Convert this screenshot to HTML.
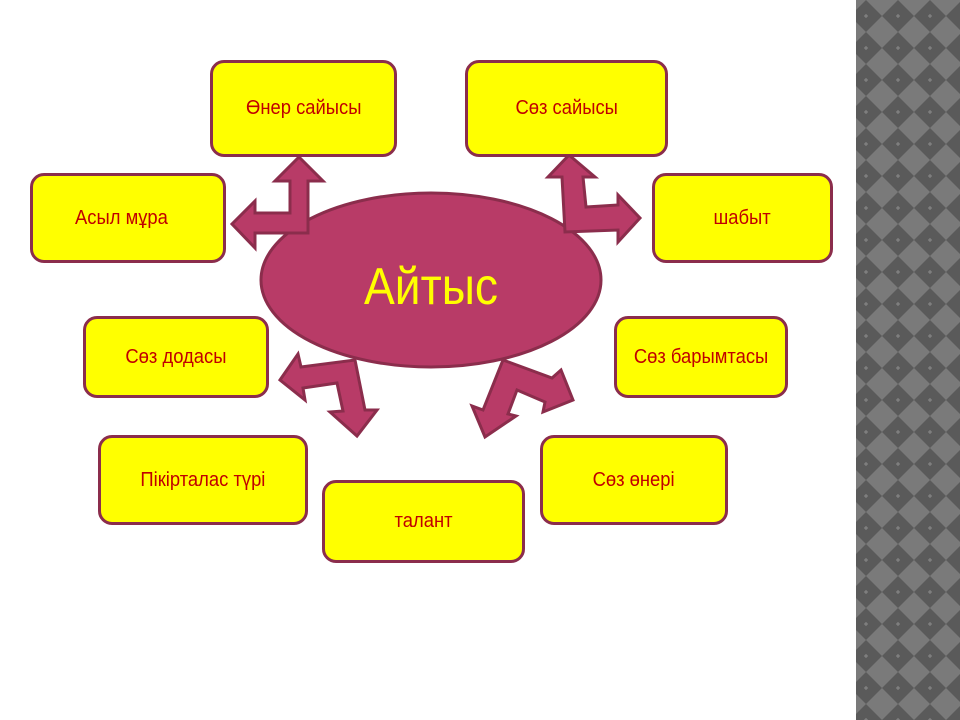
<!DOCTYPE html>
<html><head><meta charset="utf-8"><style>
body{margin:0;width:960px;height:720px;background:#fff;position:relative;overflow:hidden;font-family:"Liberation Sans",sans-serif}
.b{position:absolute;box-sizing:border-box;background:#ffff00;border:3px solid #8b2d4c;border-radius:14px;display:flex;align-items:center;justify-content:center;color:#c00000;font-size:20px}
.b span{display:inline-block;transform:scaleX(0.92)}
</style></head><body>
<svg width="104" height="720" style="position:absolute;left:856px;top:0">
<defs><pattern id="p" width="32" height="32" patternUnits="userSpaceOnUse" x="-6" y="0">
<rect width="32" height="32" fill="#7a7a7a"/>
<polygon points="16,0 32,16 16,32 0,16" fill="#5a5a5a"/>
<path d="M14,16h4M16,14v4" stroke="#8a8a8a" stroke-width="1"/>
</pattern></defs>
<rect width="104" height="720" fill="url(#p)"/>
</svg>
<svg width="960" height="720" style="position:absolute;left:0;top:0">
<g fill="#b83b67" stroke="#8b2d4c" stroke-width="3" stroke-linejoin="miter">
<ellipse cx="431" cy="280" rx="170" ry="87"/>
<polygon points="299,157 323,181 308,181 308,233 255,233 255,248 232,224 255,201 255,213 290,213 290,181 275,181"/>
<polygon points="569,155 595,177 583,177 586,207 618,205 618,195 640,218 618,242 618,230 565,232 562,177 548,177"/>
<polygon points="355,360 365,410 377,410 357,436 330,412 343,411 337,383 303,388 305,400 280,380 298,354 301,367"/>
<polygon points="503,360 552,378 561,370 573,400 543,412 545,402 517,390 508,414 516,416 485,437 472,406 483,410"/>
</g>
<text x="431" y="304" text-anchor="middle" fill="#ffff00" font-family="Liberation Sans" font-size="52" textLength="134" lengthAdjust="spacingAndGlyphs">Айтыс</text>
</svg>
<div class="b" style="left:210px;top:60px;width:187px;height:97px"><span>Өнер сайысы</span></div>
<div class="b" style="left:465px;top:60px;width:203px;height:97px"><span>Сөз сайысы</span></div>
<div class="b" style="left:30px;top:173px;width:196px;height:90px;padding-right:14px"><span>Асыл мұра</span></div>
<div class="b" style="left:652px;top:173px;width:181px;height:90px"><span>шабыт</span></div>
<div class="b" style="left:83px;top:316px;width:186px;height:82px"><span>Сөз додасы</span></div>
<div class="b" style="left:614px;top:316px;width:174px;height:82px"><span>Сөз барымтасы</span></div>
<div class="b" style="left:98px;top:435px;width:210px;height:90px"><span>Пікірталас түрі</span></div>
<div class="b" style="left:322px;top:480px;width:203px;height:83px"><span>талант</span></div>
<div class="b" style="left:540px;top:435px;width:188px;height:90px"><span>Сөз өнері</span></div>
</body></html>
